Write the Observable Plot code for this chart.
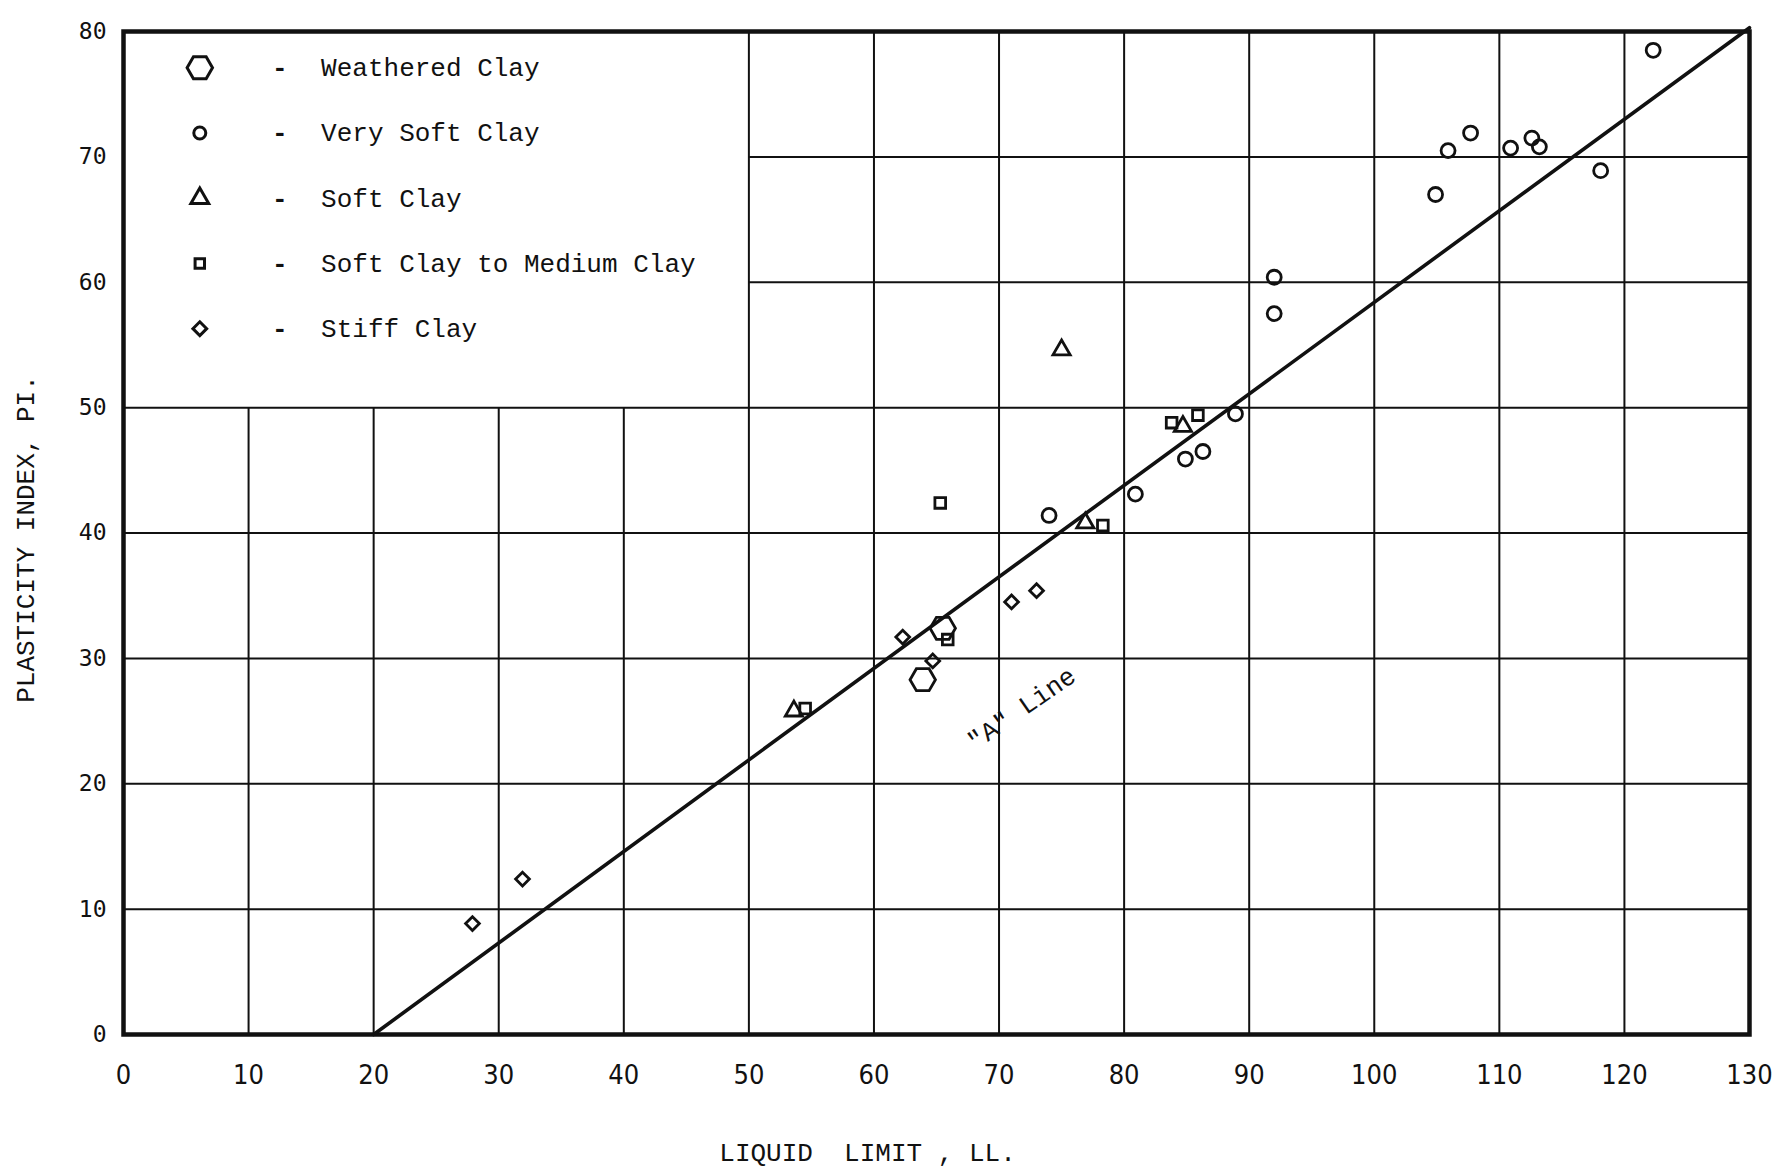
<!DOCTYPE html>
<html><head><meta charset="utf-8">
<script src="https://cdn.jsdelivr.net/npm/d3@7"></script>
<script src="https://cdn.jsdelivr.net/npm/@observablehq/plot@0.6"></script>
<style>
html,body{margin:0;padding:0;background:#fff;}
svg text{white-space:pre;}
</style></head><body><div id="chart"></div>
<script>
// ---- data ----
const categories = ["Weathered Clay", "Very Soft Clay", "Soft Clay", "Soft Clay to Medium Clay", "Stiff Clay"];
const symbols = ["hexagon", "circle", "triangle2", "square2", "diamond2"];

const weatheredLL = [65.5, 63.9];
const weatheredPI = [32.4, 28.3];

const verySoftLL = [74.0, 80.9, 84.9, 86.3, 88.9, 92.0, 92.0, 104.9, 105.9, 107.7, 110.9, 112.6, 113.2, 118.1, 122.3];
const verySoftPI = [41.4, 43.1, 45.9, 46.5, 49.5, 60.4, 57.5, 67.0, 70.5, 71.9, 70.7, 71.5, 70.8, 68.9, 78.5];

const softLL = [75.0, 84.7, 76.9, 53.6];
const softPI = [54.6, 48.5, 40.8, 25.8];

const softMedLL = [65.3, 65.9, 78.3, 83.8, 85.9, 54.5];
const softMedPI = [42.4, 31.5, 40.6, 48.8, 49.4, 26.0];

const stiffLL = [71.0, 73.0, 62.3, 64.7, 31.9, 27.9];
const stiffPI = [34.5, 35.4, 31.7, 29.8, 12.4, 8.85];

const aLineLL = [20, 130];
const aLinePI = [0, 80.3];
const aLineLabel = "\"A\" Line";
const aLabelLL = 71.8;
const aLabelPI = 26.0;

const xTickValues = [0, 10, 20, 30, 40, 50, 60, 70, 80, 90, 100, 110, 120, 130];
const yTickValues = [0, 10, 20, 30, 40, 50, 60, 70, 80];
const gridLL = [10, 20, 30, 40, 50, 60, 70, 80, 90, 100, 110, 120];
const gridPI = [10, 20, 30, 40, 50, 60, 70];

const xTitle = "LIQUID  LIMIT , LL.";
const yTitle = "PLASTICITY INDEX, PI.";

// ---- layout / style ----
const legendMaxLL = 50, legendMinPI = 50;
const mono = "Liberation Mono, Courier New, monospace";
const ink = "#111";
const series = [
  {LL: weatheredLL, PI: weatheredPI, r: 11, legendR: 11, rotate: 90},
  {LL: verySoftLL, PI: verySoftPI, r: 7, legendR: 6, rotate: 0},
  {LL: softLL, PI: softPI, r: 8.2, legendR: 8.5, rotate: 0},
  {LL: softMedLL, PI: softMedPI, r: 6.8, legendR: 6, rotate: 0},
  {LL: stiffLL, PI: stiffPI, r: 6.2, legendR: 6.2, rotate: 0}
];

const W = 1780, H = 1174;
const mL = 123, mR = 31, mT = 31, mB = 140;
const pxPerLL = (W - mL - mR) / 130, pxPerPI = (H - mT - mB) / 80;
const slope = (aLinePI[1] - aLinePI[0]) / (aLineLL[1] - aLineLL[0]);
const aAngle = Math.atan(slope * pxPerPI / pxPerLL) * 180 / Math.PI - 1.5;

const marks = [
  Plot.ruleX(gridLL, {x: d => d, y1: 0, y2: d => d < legendMaxLL ? legendMinPI : 80, stroke: ink, strokeWidth: 2}),
  Plot.ruleY(gridPI, {y: d => d, x1: d => d > legendMinPI ? legendMaxLL : 0, x2: 130, stroke: ink, strokeWidth: 2}),
  Plot.frame({stroke: ink, strokeWidth: 4.5}),
  Plot.line(aLineLL.map((x, i) => ({x, y: aLinePI[i]})), {x: "x", y: "y", stroke: ink, strokeWidth: 3.6}),
  Plot.text([aLineLabel], {x: () => aLabelLL, y: () => aLabelPI, text: d => d, rotate: -aAngle, fontSize: 26, fontFamily: mono, fill: ink}),
  Plot.axisX(xTickValues, {tickSize: 0, tickPadding: 30, fontSize: 27, fontFamily: "Liberation Sans Narrow, DejaVu Sans Condensed, Roboto Condensed, sans-serif", label: null, fill: ink}),
  Plot.axisY(yTickValues, {tickSize: 0, tickPadding: 17, fontSize: 23, fontFamily: "DejaVu Sans Mono, monospace", label: null, fill: ink}),
  Plot.text([yTitle], {frameAnchor: "left", dx: -98, dy: 6, rotate: -90, textAnchor: "middle", lineAnchor: "middle", text: d => d, fontSize: 26, fontFamily: mono, fill: ink}),
  Plot.text([xTitle], {frameAnchor: "bottom", dx: -69, dy: 118, textAnchor: "middle", lineAnchor: "middle", text: d => d, fontSize: 26, fontFamily: mono, fill: ink})
];

series.forEach((s, i) => {
  const pts = s.LL.map((x, j) => ({x, y: s.PI[j]}));
  marks.push(Plot.dot(pts, {x: "x", y: "y", symbol: symbols[i], r: s.r, rotate: s.rotate, stroke: ink, strokeWidth: 2.8, fill: "none"}));
  // legend entry inside the chart's upper-left box
  const rowPI = 77.1 - i * 5.2;
  marks.push(Plot.dot([categories[i]], {x: () => 6.1, y: () => rowPI, symbol: symbols[i], r: s.legendR, rotate: s.rotate, stroke: ink, strokeWidth: 3, fill: "none"}));
  marks.push(Plot.text([categories[i]], {x: () => 12.5, y: () => rowPI, text: () => "-", fontSize: 26, fontFamily: mono, fill: ink, fontWeight: "bold"}));
  marks.push(Plot.text([categories[i]], {x: () => 15.8, y: () => rowPI, text: d => d, textAnchor: "start", fontSize: 26, fontFamily: mono, fill: ink}));
});

const chart = Plot.plot({
  width: W, height: H,
  marginLeft: mL, marginRight: mR, marginTop: mT, marginBottom: mB,
  x: {domain: [0, 130]},
  y: {domain: [0, 80]},
  style: {background: "#fff", color: ink, fontFamily: mono, overflow: "visible"},
  marks
});
document.getElementById("chart").appendChild(chart);
</script></body></html>
